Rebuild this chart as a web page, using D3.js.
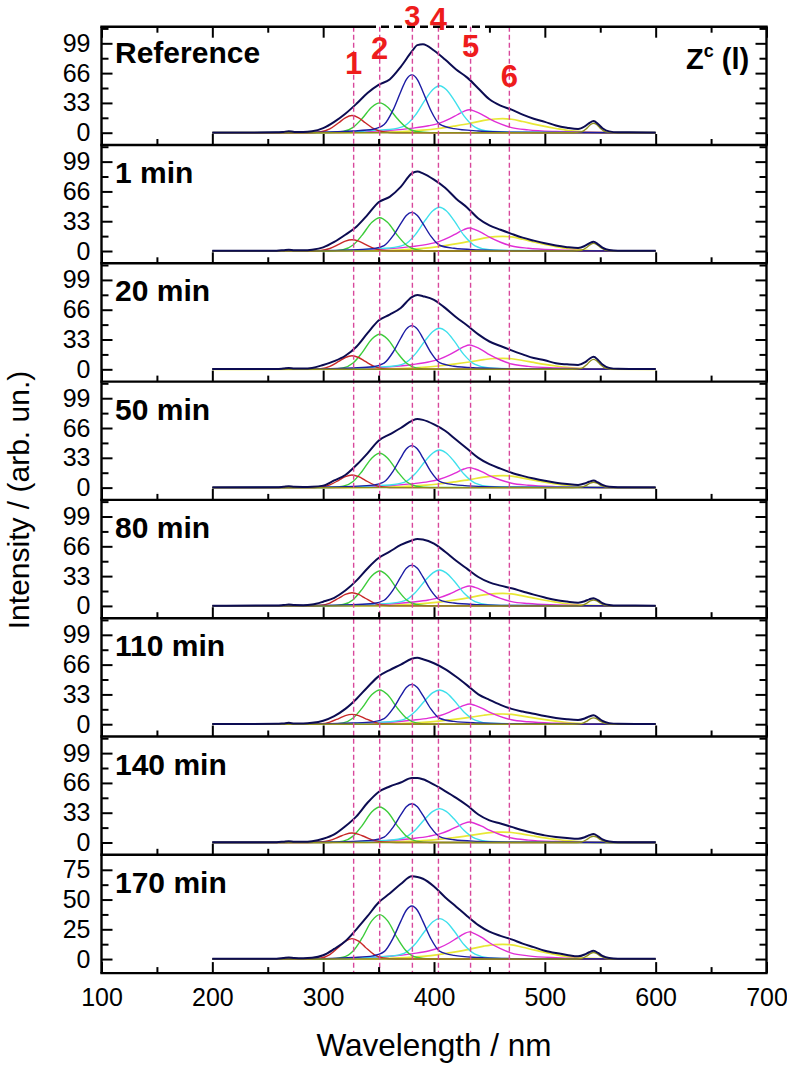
<!DOCTYPE html>
<html><head><meta charset="utf-8">
<script src="https://cdn.jsdelivr.net/npm/d3@7"></script>
<style>
body{margin:0;background:#fff}
svg{display:block}
text{font-family:"Liberation Sans",Arial,Helvetica,sans-serif}
</style>
</head><body>
<svg id="c" width="787" height="1065"></svg>
<script>
// ---------------- DATA ----------------
const panelNames = ["Reference","1 min","20 min","50 min","80 min","110 min","140 min","170 min"];
const xMajorTicks = [100,200,300,400,500,600,700];
const xMinorTicks = [150,250,350,450,550,650];
const yMajorTicks = [0,33,66,99];
const yMinorTicks = [16.5,49.5,82.5,115.5];
const yMajorTicksLast = [0,25,50,75];
const yMinorTicksLast = [12.5,37.5,62.5];
const peakNames = ["1","2","3","4","5","6"];
const peakWl = [327.5,351,380.5,404,433,468];

const totalWl = [200,258,264,269,274,282,290,300,310,320,330,340,350,360,370,380,385,390,400,410,420,430,440,450,460,470,480,490,500,510,520,530,536,540,544,548,552,558,566,600];
const total = [
 [0.3,0.4,0.9,1.6,0.9,0.8,1.5,5,12,21,32,44,53,59,73,90,97,98,91,81,70,61,49,37,30,25.5,20,15.5,12,8,5.5,4,7,10.6,13,9.6,5,1.5,0.5,0.3],
 [0.3,0.4,0.9,1.5,0.9,0.8,1.5,4,10,18,27,40,54,60,71,86,88,86,79,70,58,48,36,28.4,23.5,19,14.8,11.5,8.5,6,4.3,3.3,5.6,8.4,10.3,7.4,3.8,1.1,0.4,0.3],
 [0.3,0.4,0.9,1.5,0.9,0.8,1.5,4.8,9,15,25,40,54,60.5,68,80,82.3,81,77,68,57.7,48.5,38.7,30.8,25.8,21,16.6,12.5,10,6.6,5.5,4.8,7.6,11.4,14,10.4,5.4,1.6,0.5,0.3],
 [0.3,0.4,0.9,1.5,0.9,0.8,1,2.2,8,14,25,38,52,59,66,74,76,75,70,63,53,43,33,26,21,16.5,13,10,7.5,5.5,4,3,4.6,6.5,7.8,5.7,3,0.9,0.4,0.3],
 [0.3,0.4,0.9,1.5,0.9,0.8,1.5,4.7,9,17,28,41.5,53,60,67.5,72.5,74,73.5,69,60,50,41,32,26,22.5,19.5,16,12.5,9.3,6.5,4.8,3.6,5.2,7.3,8.6,6.3,3.2,1,0.4,0.3],
 [0.3,0.4,0.9,1.5,0.9,0.8,1.5,3.9,9,17,28,41,53,60,66,72.5,73.5,72,67.5,61,52.5,43,33,27,21.5,17,14,11.5,9,7,5.5,4.7,6.4,8.5,9.8,7.1,3.7,1.2,0.4,0.3],
 [0.3,0.4,0.9,1.5,0.9,0.8,1.5,4.2,9,18,29,44,56,62,66.5,71.5,71.5,70,64,57,49.5,41,31,24.5,21,17.3,13.5,10.5,7.9,6.2,5,4.2,5.9,8,9.4,6.8,3.5,1.1,0.4,0.3],
 [0.2,0.3,0.8,1.3,0.8,0.6,1,3.2,8.5,15,25,36,47.5,55,63,69.5,69,67.5,61,52,44,36,28.5,23,19.5,16.5,13,10,7,5,3.5,2.3,3.8,5.7,6.9,5.1,2.6,0.8,0.3,0.2]
];

const redWl = [200,286,298,306,314,320,326,332,338,346,354,366,600];
const red = [
 [0,0,1,4.2,11,16.5,19,16.5,11,4.2,1,0,0],
 [0,0,0.6,2.8,7.3,10.9,12.5,10.9,7.3,2.8,0.6,0,0],
 [0,0,0.8,3.3,8.7,13.1,15,13.1,8.7,3.3,0.8,0,0],
 [0,0,0.7,3.1,8.1,12.2,14,12.2,8.1,3.1,0.7,0,0],
 [0,0,0.7,3.2,8.5,12.7,14.6,12.7,8.5,3.2,0.7,0,0],
 [0,0,0.5,2.4,6.3,9.5,10.9,9.5,6.3,2.4,0.5,0,0],
 [0,0,0.5,2.3,6.1,9.1,10.5,9.1,6.1,2.3,0.5,0,0],
 [0,0,0.9,3.8,10,15,17.2,15,10,3.8,0.9,0,0]
];

const greenWl = [200,305,318,327,335,344,351,358,367,375,384,397,600];
const green = [
 [0,0.1,1.3,5.9,15.5,28.5,33,28.5,15.5,5.9,1.3,0.1,0],
 [0,0.1,1.5,6.6,17.3,31.9,36.9,31.9,17.3,6.6,1.5,0.1,0],
 [0,0.1,1.6,7,18.2,33.6,38.8,33.6,18.2,7,1.6,0.1,0],
 [0,0.1,1.5,6.8,17.9,32.9,38,32.9,17.9,6.8,1.5,0.1,0],
 [0,0.1,1.5,6.9,18.1,33.4,38.6,33.4,18.1,6.9,1.5,0.1,0],
 [0,0.1,1.5,6.8,17.8,32.8,37.9,32.8,17.8,6.8,1.5,0.1,0],
 [0,0.1,1.6,7.1,18.5,34,39.3,34,18.5,7.1,1.6,0.1,0],
 [0,0.1,1.5,6.7,17.5,32.3,37.3,32.3,17.5,6.7,1.5,0.1,0]
];

const blueWl = [200,300,327,345,355,363,370,375,380,385,390,397,405,418,440,470,600];
const blue = [
 [0,0.6,1.9,3.8,9,25,45.4,58.9,64,58.9,45.4,25,9.6,4.5,1.9,0.6,0],
 [0,0.4,1.3,2.6,6,16.7,30.4,39.4,42.8,39.4,30.4,16.7,6.4,3,1.3,0.4,0],
 [0,0.5,1.5,2.9,6.8,18.9,34.4,44.5,48.4,44.5,34.4,18.9,7.3,3.4,1.5,0.5,0],
 [0,0.5,1.4,2.8,6.5,18.1,33,42.8,46.5,42.8,33,18.1,7,3.3,1.4,0.5,0],
 [0,0.5,1.4,2.7,6.3,17.6,32.1,41.6,45.2,41.6,32.1,17.6,6.8,3.2,1.4,0.5,0],
 [0,0.4,1.3,2.6,6.2,17.2,31.3,40.6,44.1,40.6,31.3,17.2,6.6,3.1,1.3,0.4,0],
 [0,0.4,1.3,2.6,6,16.8,30.5,39.6,43,39.6,30.5,16.8,6.5,3,1.3,0.4,0],
 [0,0.4,1.3,2.7,6.2,17.4,31.7,41,44.6,41,31.7,17.4,6.7,3.1,1.3,0.4,0]
];

const cyanWl = [200,320,345,360,373,383,392,399,405,411,418,427,437,450,475,600];
const cyan = [
 [0,0.5,2.6,3.6,7.3,19.2,36.4,47.8,52,47.8,36.4,18.7,6.2,1.6,0.5,0],
 [0,0.5,2.4,3.4,6.8,17.9,33.9,44.5,48.4,44.5,33.9,17.4,5.8,1.5,0.5,0],
 [0,0.5,2.3,3.2,6.4,16.8,31.8,41.8,45.4,41.8,31.8,16.3,5.4,1.4,0.5,0],
 [0,0.4,2.1,2.9,5.8,15.4,29.2,38.4,41.7,38.4,29.2,15,5,1.3,0.4,0],
 [0,0.4,2,2.8,5.6,14.7,27.9,36.6,39.8,36.6,27.9,14.3,4.8,1.2,0.4,0],
 [0,0.4,1.9,2.7,5.3,14,26.5,34.9,37.9,34.9,26.5,13.6,4.5,1.1,0.4,0],
 [0,0.4,1.9,2.6,5.3,13.9,26.3,34.5,37.5,34.5,26.3,13.5,4.5,1.1,0.4,0],
 [0,0.3,1.7,2.4,4.8,12.6,23.8,31.3,34,31.3,23.8,12.2,4.1,1,0.3,0]
];

const magentaWl = [200,300,330,360,381,395,405,414,421,427,432,437,443,450,460,470,485,510,550,600];
const magenta = [
 [0,0.1,0.8,2.6,5.1,7.7,10.7,15.3,19.9,23.7,25.5,23.7,20.4,15.3,9.7,5.6,3.1,1.3,0.3,0],
 [0,0.1,0.8,2.6,5.1,7.7,10.7,15.3,19.9,23.7,25.5,23.7,20.4,15.3,9.7,5.6,3.1,1.3,0.3,0],
 [0,0.1,0.8,2.7,5.4,8.1,11.3,16.2,21.1,25.1,27,25.1,21.6,16.2,10.3,5.9,3.2,1.4,0.3,0],
 [0,0.1,0.7,2.2,4.4,6.6,9.3,13.3,17.2,20.6,22.1,20.6,17.7,13.3,8.4,4.9,2.7,1.1,0.2,0],
 [0,0.1,0.7,2.2,4.4,6.6,9.2,13.2,17.2,20.5,22,20.5,17.6,13.2,8.4,4.8,2.6,1.1,0.2,0],
 [0,0.1,0.7,2.2,4.5,6.7,9.4,13.4,17.5,20.8,22.4,20.8,17.9,13.4,8.5,4.9,2.7,1.1,0.2,0],
 [0,0.1,0.7,2.3,4.5,6.8,9.5,13.6,17.7,21.1,22.7,21.1,18.2,13.6,8.6,5,2.7,1.1,0.2,0],
 [0,0.1,0.7,2.3,4.6,6.8,9.6,13.7,17.8,21.2,22.8,21.2,18.2,13.7,8.7,5,2.7,1.1,0.2,0]
];

const yellowWl = [200,320,340,360,375,390,404,418,432,445,455,462,470,480,490,500,510,520,530,540,555,600];
const yellow = [
 [0,0.1,0.3,0.8,1.6,2.8,4.7,7.3,10.2,13.6,15.2,15.5,14.9,12.4,9.6,7,4.7,2.6,1.4,0.6,0.2,0],
 [0,0.1,0.3,0.8,1.6,2.9,4.9,7.6,10.7,14.3,15.9,16.2,15.6,13,10,7.3,4.9,2.8,1.5,0.6,0.2,0],
 [0,0.1,0.2,0.6,1.2,2.2,3.7,5.7,8.1,10.7,12,12.2,11.7,9.8,7.6,5.5,3.7,2.1,1.1,0.5,0.1,0],
 [0,0.1,0.3,0.7,1.3,2.4,4,6.3,8.8,11.7,13,13.3,12.8,10.6,8.2,6,4,2.3,1.2,0.5,0.1,0],
 [0,0.1,0.3,0.7,1.4,2.5,4.2,6.5,9.2,12.2,13.6,13.9,13.3,11.1,8.6,6.3,4.2,2.4,1.3,0.6,0.1,0],
 [0,0.1,0.2,0.6,1.1,2,3.4,5.3,7.5,9.9,11.1,11.3,10.8,9,7,5.1,3.4,1.9,1,0.5,0.1,0],
 [0,0.1,0.2,0.6,1.2,2.1,3.5,5.5,7.7,10.2,11.4,11.6,11.1,9.3,7.2,5.2,3.5,2,1,0.5,0.1,0],
 [0,0.1,0.2,0.6,1.2,2.2,3.7,5.8,8.2,10.9,12.2,12.4,11.9,9.9,7.7,5.6,3.7,2.1,1.1,0.5,0.1,0]
];

const oliveWl = [200,525,533,538,541,544,547,550,555,563,600];
const olive = [
 [0,0,0.9,5.1,8.8,10.5,8.8,5.1,0.9,0,0],
 [0,0,0.8,4.2,7.1,8.5,7.1,4.2,0.8,0,0],
 [0,0,1,5.4,9.2,11,9.2,5.4,1,0,0],
 [0,0,0.5,2.9,5,6,5,2.9,0.5,0,0],
 [0,0,0.6,3.2,5.5,6.5,5.5,3.2,0.6,0,0],
 [0,0,0.6,3.4,5.9,7,5.9,3.4,0.6,0,0],
 [0,0,0.6,3.4,5.9,7,5.9,3.4,0.6,0,0],
 [0,0,0.5,2.7,4.6,5.5,4.6,2.7,0.5,0,0]
];

// ---------------- LAYOUT ----------------
const L = 101.5, R = 766.5, T = 26.7, PH = 118.3;
const nP = panelNames.length;
const B = T + nP * PH;
const FONT = '"Liberation Sans",Arial,Helvetica,sans-serif';
const svg = d3.select("#c");
const x = d3.scaleLinear().domain([100, 700]).range([L, R]);

const seriesDefs = [
  {wl: yellowWl, v: yellow, c: "#e8e836", w: 1.7},
  {wl: magentaWl, v: magenta, c: "#e02ed6", w: 1.4},
  {wl: cyanWl, v: cyan, c: "#3fe0ec", w: 1.4},
  {wl: greenWl, v: green, c: "#3ccc3a", w: 1.4},
  {wl: redWl, v: red, c: "#c82828", w: 1.4},
  {wl: blueWl, v: blue, c: "#1c1ca4", w: 1.4},
  {wl: oliveWl, v: olive, c: "#8e8e1c", w: 1.4},
  {wl: totalWl, v: total, c: "#0c0c52", w: 2.0}
];

const yScales = [];
panelNames.forEach((name, i) => {
  const top = T + i * PH, bot = top + PH;
  const last = i === nP - 1;
  const y = d3.scaleLinear().domain(last ? [-11.8, 87.6] : [-13.6, 117.4]).range([bot, top]);
  yScales.push(y);
  const g = svg.append("g").attr("class", "curves");
  const line = d3.line().x(d => x(d[0])).y(d => y(d[1])).curve(d3.curveMonotoneX);
  seriesDefs.forEach(s => {
    const pts = s.wl.map((w, k) => [w, s.v[i][k]]);
    g.append("path").attr("d", line(pts)).attr("fill", "none")
      .attr("stroke", s.c).attr("stroke-width", s.w).attr("stroke-linejoin", "round");
  });
});

// dashed peak position lines
svg.append("g").selectAll("line").data(peakWl).join("line")
  .attr("x1", d => x(d)).attr("x2", d => x(d))
  .attr("y1", T).attr("y2", B)
  .attr("stroke", "#d8489c").attr("stroke-width", 1.4)
  .attr("stroke-dasharray", "5,3");

// axes & frames
function styleAxis(sel) {
  sel.select(".domain").remove();
  sel.selectAll(".tick line").attr("stroke", "#000").attr("stroke-width", 2);
  sel.selectAll("text").attr("fill", "#000").style("font-family", FONT).style("font-size", "25px");
}
const dashA = 368, dashB = 487;
panelNames.forEach((name, i) => {
  const top = T + i * PH, bot = top + PH;
  const last = i === nP - 1;
  const y = yScales[i];
  const g = svg.append("g");
  const yMaj = last ? yMajorTicksLast : yMajorTicks;
  const yMin = last ? yMinorTicksLast : yMinorTicks;
  g.append("g").attr("transform", `translate(0,${bot})`)
    .call(d3.axisBottom(x).tickValues(xMajorTicks).tickSize(-11).tickSizeOuter(0).tickPadding(15)
      .tickFormat(last ? d3.format("d") : () => "")).call(styleAxis);
  g.append("g").attr("transform", `translate(0,${bot})`)
    .call(d3.axisBottom(x).tickValues(xMinorTicks).tickSize(-6).tickSizeOuter(0).tickFormat(() => "")).call(styleAxis);
  if (i === 0) {
    const outside = v => x(v) < dashA - 2 || x(v) > dashB + 2;
    g.append("g").attr("transform", `translate(0,${top})`)
      .call(d3.axisTop(x).tickValues(xMajorTicks.filter(outside)).tickSize(-11).tickSizeOuter(0).tickFormat(() => "")).call(styleAxis);
    g.append("g").attr("transform", `translate(0,${top})`)
      .call(d3.axisTop(x).tickValues(xMinorTicks.filter(outside)).tickSize(-6).tickSizeOuter(0).tickFormat(() => "")).call(styleAxis);
  }
  g.append("g").attr("transform", `translate(${L},0)`)
    .call(d3.axisLeft(y).tickValues(yMaj).tickSize(-11).tickSizeOuter(0).tickPadding(11).tickFormat(d3.format("d"))).call(styleAxis);
  g.append("g").attr("transform", `translate(${L},0)`)
    .call(d3.axisLeft(y).tickValues(yMin).tickSize(-7).tickSizeOuter(0).tickFormat(() => "")).call(styleAxis);
  g.append("g").attr("transform", `translate(${R},0)`)
    .call(d3.axisRight(y).tickValues(yMaj).tickSize(-11).tickSizeOuter(0).tickFormat(() => "")).call(styleAxis);
  g.append("g").attr("transform", `translate(${R},0)`)
    .call(d3.axisRight(y).tickValues(yMin).tickSize(-7).tickSizeOuter(0).tickFormat(() => "")).call(styleAxis);
  const fw = 2.4;
  g.append("line").attr("x1", L).attr("x2", L).attr("y1", top).attr("y2", bot).attr("stroke", "#000").attr("stroke-width", fw);
  g.append("line").attr("x1", R).attr("x2", R).attr("y1", top).attr("y2", bot).attr("stroke", "#000").attr("stroke-width", fw);
  g.append("line").attr("x1", L - fw / 2).attr("x2", R + fw / 2).attr("y1", bot).attr("y2", bot).attr("stroke", "#000").attr("stroke-width", fw);
  if (i === 0) {
    g.append("line").attr("x1", L - fw / 2).attr("x2", dashA).attr("y1", top).attr("y2", top).attr("stroke", "#000").attr("stroke-width", fw);
    g.append("line").attr("x1", dashA).attr("x2", dashB).attr("y1", top).attr("y2", top).attr("stroke", "#000").attr("stroke-width", fw).attr("stroke-dasharray", "8,5");
    g.append("line").attr("x1", dashB).attr("x2", R + fw / 2).attr("y1", top).attr("y2", top).attr("stroke", "#000").attr("stroke-width", fw);
  }
  g.append("text").attr("x", 115).attr("y", top + (i === 0 ? 36 : 38))
    .style("font-family", FONT).style("font-size", "30px").style("font-weight", "bold").text(name);
});

// Z^c (l) label
const z = svg.append("text").attr("x", 686).attr("y", 69)
  .style("font-family", FONT).style("font-size", "29px").style("font-weight", "bold");
z.append("tspan").text("Z");
z.append("tspan").attr("dy", -12).style("font-size", "18px").text("c");
z.append("tspan").attr("dy", 12).text(" (l)");

// peak number labels
const peakLabelY = [74, 58.5, 26, 29.5, 56.5, 87];
svg.append("g").selectAll("text").data(peakNames).join("text")
  .attr("x", (d, k) => x(peakWl[k]))
  .attr("y", (d, k) => peakLabelY[k])
  .attr("text-anchor", "middle")
  .style("font-family", FONT).style("font-size", (d, k) => k === 2 ? "29px" : "31px").style("font-weight", "bold")
  .attr("fill", "#ee1c1c").text(d => d);

// axis titles
svg.append("text").attr("x", 434).attr("y", 1056).attr("text-anchor", "middle")
  .style("font-family", FONT).style("font-size", "31.5px").text("Wavelength / nm");
svg.append("text").attr("transform", "translate(29,500) rotate(-90)").attr("text-anchor", "middle")
  .style("font-family", FONT).style("font-size", "30px").text("Intensity / (arb. un.)");
</script>
</body></html>
